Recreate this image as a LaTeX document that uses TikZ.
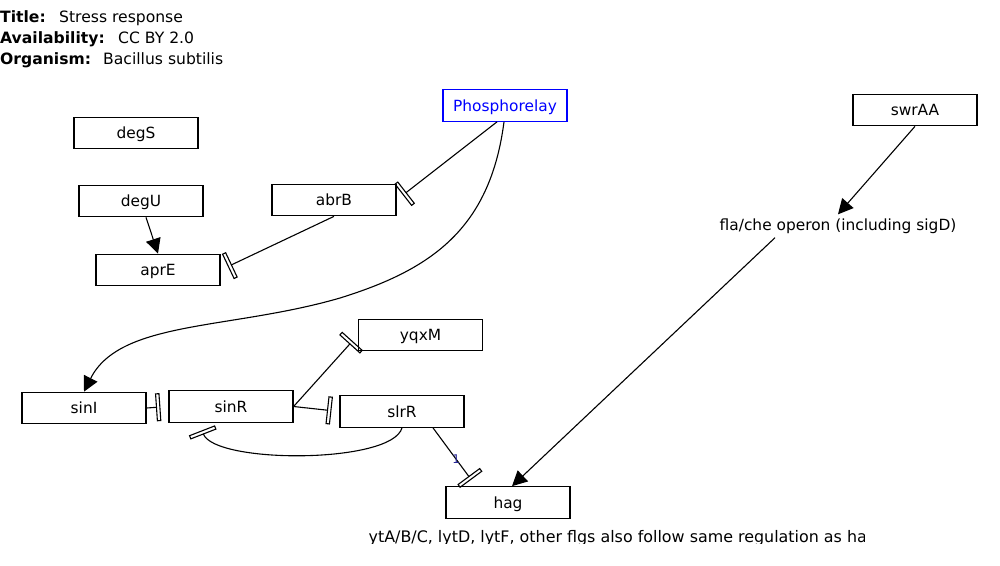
\documentclass[tikz,border=0pt]{standalone}
\usepackage{fontspec}
\setmainfont{DejaVu Sans}
\usetikzlibrary{arrows.meta}
\definecolor{pvblue}{RGB}{0,0,255}
\definecolor{lblblue}{RGB}{40,40,150}
\tikzset{
  gene/.style={draw=black, line width=1.2pt, fill=white, minimum width=124pt,
    minimum height=31.5pt, inner sep=0pt, text height=14pt, text depth=3pt},
  conn/.style={line width=1.1pt, draw=black},
  act/.style={conn, -{Triangle[length=15pt,width=15pt]}},
  inh/.style={conn, -{Rectangle[open,length=4.5pt,width=28pt,line width=1.1pt]}, shorten >=8pt},
  hdr/.style={anchor=base west, inner sep=0pt, font=\fontsize{15.6}{18}\selectfont},
  edgelbl/.style={font=\fontsize{12}{14}\selectfont, text=lblblue, inner sep=0pt},
}
\begin{document}
\begin{tikzpicture}[x=1pt, y=-1pt, font=\fontsize{15.4}{18}\selectfont]
\useasboundingbox (0,0) rectangle (1000,565);

% header
\node[hdr] (t1) at (0,22.5) {\textbf{Title:}};
\node[hdr] (t1v) at (59,22.5) {Stress response};
\node[hdr] (t2) at (0,43) {\textbf{Availability:}};
\node[hdr] (t2v) at (118,43) {CC BY 2.0};
\node[hdr] (t3) at (0,64.5) {\textbf{Organism:}};
\node[hdr] (t3v) at (103,64.5) {Bacillus subtilis};

% nodes
\node[gene] (degS) at (136,133) {degS};
\node[gene] (degU) at (141,201) {degU};
\node[gene] (aprE) at (158,270) {aprE};
\node[gene] (abrB) at (334,200) {abrB};
\node[gene, draw=pvblue, text=pvblue] (phos) at (505,105.5) {Phosphorelay};
\node[gene] (swrAA) at (915,110) {swrAA};
\node[gene] (sinI) at (84,408) {sinI};
\node[gene] (sinR) at (231,406.5) {sinR};
\node[gene] (yqxM) at (420.5,335) {yqxM};
\node[gene] (slrR) at (402,411.5) {slrR};
\node[gene] (hag) at (508,502.5) {hag};
\node[inner sep=4.5pt, text height=11pt, text depth=3pt] (fla) at (838,226) {fla/che operon (including sigD)};

\begin{scope}
  \clip (368,524) rectangle (864,543.5);
  \node[anchor=base west, inner sep=0pt, font=\fontsize{15.9}{18}\selectfont] (note) at (364,542.6) {lytA/B/C, lytD, lytF, other flgs also follow same regulation as hag};
\end{scope}

% connectors
\draw[act] ([xshift=5pt]degU.south) -- (aprE.north);
\draw[inh] (abrB.south) -- (aprE.east);
\draw[inh] ([xshift=-8pt]phos.south) -- (abrB.east);
\draw[act] ([xshift=-1pt]phos.south) .. controls (490,230) and (430,270) .. (340,298)
  .. controls (230,330) and (120,320) .. (sinI.north);
\draw[inh] (sinI.east) -- (sinR.west);
\draw[inh] (sinR.east) -- (slrR.west);
\draw[inh] (sinR.east) -- (yqxM.west);
\draw[inh] (slrR.south) .. controls (392,464) and (215,464) .. ([xshift=-32pt]sinR.south);
\draw[inh] ([xshift=31pt]slrR.south) -- node[edgelbl, pos=0.54] (one) {1} ([xshift=-32pt]hag.north);
\draw[act] (swrAA.south) -- (fla.north);
\draw[act] ([xshift=-63pt]fla.south) -- ([xshift=4pt]hag.north);
\end{tikzpicture}
\end{document}
